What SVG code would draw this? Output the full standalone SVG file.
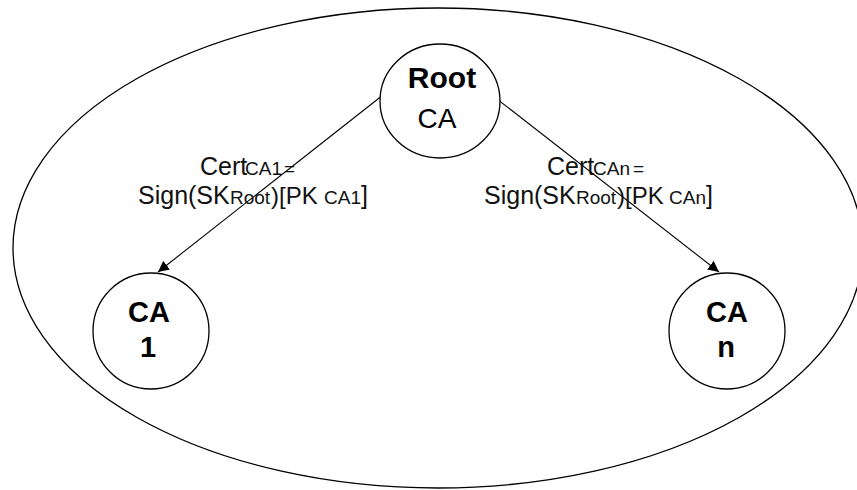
<svg xmlns="http://www.w3.org/2000/svg" width="857" height="490" viewBox="0 0 857 490">
<style>
.shape{fill:none;stroke:#000;stroke-width:1.3}
.node{fill:#fff;stroke:#000;stroke-width:1.3}
.edge{stroke:#000;stroke-width:1.1;fill:none}
.nt{font-family:"Liberation Sans",Arial,sans-serif;fill:#000;text-anchor:middle}
.lbl{font-family:"Liberation Sans",Arial,sans-serif;fill:#111;font-size:25px}
.sub{font-size:19px}
</style>
<defs>
<marker id="arr" markerUnits="userSpaceOnUse" markerWidth="12" markerHeight="12" refX="11" refY="6" orient="auto">
<path d="M0,0.5 L11,6 L0,11.5 Z" fill="#000"/>
</marker>
</defs>
<rect width="857" height="490" fill="#fff"/>
<ellipse id="domain" class="shape" cx="438" cy="248" rx="425" ry="240"/>
<g id="connectors">
<line class="edge" x1="383" y1="95" x2="158" y2="272" marker-end="url(#arr)"/>
<line class="edge" x1="497" y1="99" x2="719" y2="272" marker-end="url(#arr)"/>
<text class="lbl"><tspan x="200" y="175">Cert</tspan><tspan class="sub" x="245" y="175">CA1</tspan><tspan class="sub" x="284" y="175">=</tspan></text>
<text class="lbl"><tspan x="138" y="204">Sign(SK</tspan><tspan class="sub" x="230" y="204">Root</tspan><tspan x="271" y="204" font-size="24">)[PK</tspan><tspan class="sub" x="324" y="204">CA1</tspan><tspan y="204">]</tspan></text>
<text class="lbl"><tspan x="547" y="175">Cert</tspan><tspan class="sub" x="593" y="175">CAn</tspan><tspan class="sub" x="633" y="175">=</tspan></text>
<text class="lbl"><tspan x="484" y="204">Sign(SK</tspan><tspan class="sub" x="576" y="204">Root</tspan><tspan x="617" y="204" font-size="24">)[PK</tspan><tspan class="sub" x="669" y="204">CAn</tspan><tspan y="204">]</tspan></text>
</g>
<g id="root-ca">
<ellipse class="node" cx="440" cy="101" rx="60" ry="57"/>
<text class="nt" x="442" y="88" font-size="30" font-weight="bold">Root</text>
<text class="nt" x="437" y="128" font-size="28">CA</text>
</g>
<g id="ca-1">
<circle class="node" cx="151" cy="331" r="58"/>
<text class="nt" x="149" y="322" font-size="29" font-weight="bold">CA</text>
<text class="nt" x="148" y="357" font-size="29" font-weight="bold">1</text>
</g>
<g id="ca-n">
<circle class="node" cx="727" cy="331" r="58"/>
<text class="nt" x="727" y="322" font-size="29" font-weight="bold">CA</text>
<text class="nt" x="726" y="357" font-size="29" font-weight="bold">n</text>
</g>
</svg>
